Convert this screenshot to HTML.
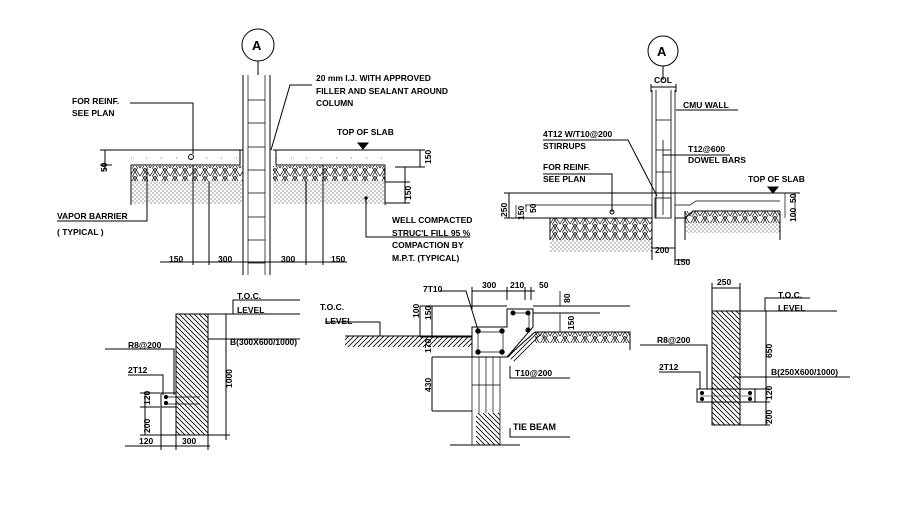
<!DOCTYPE html>
<html><head><style>
html,body{margin:0;padding:0;background:#fff;}
svg{display:block;}
text{font-family:"Liberation Sans",sans-serif;font-weight:bold;font-size:8.5px;fill:#000;}
</style></head><body>
<svg width="904" height="529" viewBox="0 0 904 529" xmlns="http://www.w3.org/2000/svg">
<defs>
<pattern id="diag" width="5" height="5" patternUnits="userSpaceOnUse"><path d="M-1,1 L1,-1 M0,5 L5,0 M4,6 L6,4" stroke="#000" stroke-width="0.8" transform="scale(-1,1) translate(-5,0)"/></pattern>
<pattern id="diag2" width="5" height="5" patternUnits="userSpaceOnUse"><path d="M-1,1 L1,-1 M0,5 L5,0 M4,6 L6,4" stroke="#000" stroke-width="0.8"/></pattern>
<pattern id="herr" width="10" height="8" patternUnits="userSpaceOnUse"><path d="M0,8 L5,0 M5,0 L10,8 M-5,8 L0,0 M10,0 L15,8 M2.5,8 L7.5,0 M2.5,0 L7.5,8" stroke="#000" stroke-width="0.7"/></pattern>
<pattern id="dots" width="4" height="4" patternUnits="userSpaceOnUse"><circle cx="1" cy="1" r="0.55" fill="#000"/><circle cx="3" cy="3" r="0.55" fill="#000"/></pattern>
</defs>
<g stroke="#000" stroke-width="1" fill="none">
<!-- ===== DETAIL 1 ===== -->
<circle cx="258" cy="45" r="16"/>
<line x1="258" y1="61" x2="258" y2="75"/>
<rect x="131" y="166" width="112" height="15" fill="url(#herr)" stroke="none"/>
<rect x="273" y="166" width="112" height="15" fill="url(#herr)" stroke="none"/>
<rect x="131" y="181" width="112" height="23" fill="url(#dots)" stroke="none"/>
<rect x="273" y="181" width="112" height="23" fill="url(#dots)" stroke="none"/>
<line x1="243" y1="75" x2="243" y2="275"/><line x1="270" y1="75" x2="270" y2="275"/>
<line x1="248" y1="75" x2="248" y2="275" stroke-width="0.7"/><line x1="265" y1="75" x2="265" y2="275" stroke-width="0.7"/>
<path d="M248,100H265M248,123H265M248,147H265M248,170H265M248,193H265M248,217H265M248,240H265M248,263H265" stroke-width="0.7"/>
<path d="M108,150H243M273,150H415"/>
<path d="M131,165H240V150M276,150V165H385" />
<path d="M131,165V205M385,165V205"/>
<path d="M131,158H240M276,158H385" stroke-width="0.5" stroke-dasharray="1,14"/>
<circle cx="191" cy="157" r="2.5"/>
<path d="M130,103H193V154"/>
<path d="M312,85H290L271,150"/>
<path d="M358,143h10l-5,6z" fill="#000"/>
<path d="M105,150V170M100,150H112M100,165H112"/>
<path d="M420,150V167M395,167H425M415,150H425"/>
<path d="M405,167V203M385,182H410M385,203H410"/>
<path d="M57,221H147V168"/>
<path d="M366,198V237H470"/>
<circle cx="366" cy="198" r="1.2" fill="#000"/>
<path d="M160,262H347M193,165V265M209,181V265M306,181V265M323,165V265"/>
<!-- ===== DETAIL 2 ===== -->
<circle cx="663" cy="51" r="15"/>
<line x1="663" y1="66" x2="663" y2="80"/>
<path d="M651,87H676M651,84V92M676,84V92"/>
<rect x="550" y="218" width="102" height="22" fill="url(#herr)" stroke="none"/>
<rect x="550" y="240" width="102" height="12" fill="url(#dots)" stroke="none"/>
<rect x="685" y="211" width="95" height="12" fill="url(#herr)" stroke="none"/>
<rect x="685" y="223" width="95" height="10" fill="url(#dots)" stroke="none"/>
<path d="M652,90V218M675,90V218M656,90V218M671,90V218" stroke-width="0.8"/>
<path d="M656,120H671M656,150H671M656,172H671" stroke-width="0.8"/>
<path d="M663,140V215" stroke-width="0.8"/>
<path d="M676,110H738"/>
<path d="M663,155H730"/>
<path d="M543,140H628L657,196"/>
<path d="M543,174H612V212"/><circle cx="612" cy="212" r="2"/>
<path d="M507,193H800"/>
<path d="M507,218H652M675,218H685L693,211H780"/>
<path d="M525,205H652V218M675,205H690L696,201H780" stroke-width="0.7"/>
<rect x="655" y="198" width="16" height="20" stroke-width="0.8"/>
<path d="M550,218V240M685,211V240M780,211V240"/>
<path d="M768,187h10l-5,6z" fill="#000"/>
<path d="M509,193V218M504,193H514M504,218H514"/>
<path d="M516,205V218M526,205V212" stroke-width="0.7"/>
<path d="M785,193V218M795,193V218" stroke-width="0.7"/>
<path d="M652,218V260M675,218V265M652,248H675M675,260H690"/>
<!-- ===== BOTTOM LEFT ===== -->
<rect x="176" y="314" width="32" height="121" fill="url(#diag)"/>
<rect x="161" y="393" width="15" height="14"/>
<circle cx="166" cy="397" r="1.6" fill="#000"/><circle cx="166" cy="403" r="1.6" fill="#000"/>
<path d="M164,397H200M164,404H200" stroke-width="0.7"/>
<path d="M208,314H300M233,314V300H300"/>
<path d="M208,339H300"/>
<path d="M105,349H174V395"/>
<path d="M128,375H163V395"/>
<path d="M226,314V440M208,435H230"/>
<path d="M145,393V435M140,393H160M140,407H160M140,435H176"/>
<path d="M125,446H210M161,407V450M176,435V450M208,435V450"/>
<!-- ===== BOTTOM MIDDLE ===== -->
<rect x="345" y="336" width="127" height="11" fill="url(#diag2)" stroke="none"/>
<rect x="535" y="332" width="95" height="11" fill="url(#herr)" stroke="none"/>
<path d="M507,357L535,332L545,335L515,362Z" fill="url(#diag2)" stroke="none"/>
<path d="M345,336H472M535,332H630V350"/>
<path d="M507,357L535,332"/>
<path d="M380,322H325M380,322V336"/>
<path d="M472,327H507V309H533V327L507,357H472Z"/>
<path d="M478,332H503V352H478Z" stroke-width="0.7"/>
<path d="M511,313H529V330" stroke-width="0.7"/>
<circle cx="478" cy="331" r="2.2" fill="#000"/><circle cx="502" cy="331" r="2.2" fill="#000"/>
<circle cx="478" cy="352" r="2.2" fill="#000"/><circle cx="502" cy="352" r="2.2" fill="#000"/>
<circle cx="513" cy="313" r="2" fill="#000"/><circle cx="528" cy="313" r="2" fill="#000"/><circle cx="528" cy="330" r="2" fill="#000"/>
<path d="M533,306H630M533,313H600" />
<path d="M472,357V445M500,357V445M479,357V413M486,357V413M493,357V413M472,385H500" stroke-width="0.7"/>
<rect x="476" y="413" width="24" height="32" fill="url(#diag)" stroke="none"/>
<path d="M450,445H520"/>
<path d="M440,291H466L478,330"/>
<path d="M472,291H535M472,287V309M507,287V300M525,287V300M531,287V300"/>
<path d="M420,306H507M420,306V337M432,306V337M420,337H472M432,357H472V357M432,357V411M432,411H472"/>
<path d="M560,291V306M555,306H565M560,313V332" stroke-width="0.8"/>
<path d="M510,366V378H570"/>
<path d="M510,428V437H570"/>
<!-- ===== BOTTOM RIGHT ===== -->
<rect x="712" y="311" width="28" height="114" fill="url(#diag)"/>
<rect x="697" y="389" width="58" height="13"/>
<circle cx="702" cy="393" r="1.5" fill="#000"/><circle cx="702" cy="399" r="1.5" fill="#000"/><circle cx="750" cy="393" r="1.5" fill="#000"/><circle cx="750" cy="399" r="1.5" fill="#000"/>
<path d="M700,396H752" stroke-width="0.6"/>
<path d="M712,288H740M712,283V311M740,283V311"/>
<path d="M740,311H837M765,311V298H810"/>
<path d="M766,311V425M755,389H770M755,402H770M740,425H770"/>
<path d="M640,345H707V389"/>
<path d="M659,372H700V389"/>
<path d="M733,377H850"/>
</g>
<g>
<text x="252" y="50" style="font-size:13px">A</text>
<text x="657" y="56" style="font-size:13px">A</text>
<text x="72" y="104">FOR REINF.</text><text x="72" y="116">SEE PLAN</text>
<text x="316" y="81">20 mm I.J. WITH APPROVED</text>
<text x="316" y="94">FILLER AND SEALANT AROUND</text>
<text x="316" y="106">COLUMN</text>
<text x="337" y="135">TOP OF SLAB</text>
<text x="57" y="219">VAPOR BARRIER</text><text x="57" y="235">( TYPICAL )</text>
<text x="392" y="223">WELL COMPACTED</text>
<text x="392" y="236">STRUC'L FILL 95 %</text>
<text x="392" y="248">COMPACTION BY</text>
<text x="392" y="261">M.P.T. (TYPICAL)</text>
<text x="169" y="262">150</text><text x="218" y="262">300</text><text x="281" y="262">300</text><text x="331" y="262">150</text>
<text transform="translate(107,172) rotate(-90)">50</text>
<text transform="translate(431,164) rotate(-90)">150</text>
<text transform="translate(411,200) rotate(-90)">150</text>
<text x="654" y="83">COL</text>
<text x="683" y="108">CMU WALL</text>
<text x="543" y="137">4T12 W/T10@200</text><text x="543" y="149">STIRRUPS</text>
<text x="688" y="152">T12@600</text><text x="688" y="163">DOWEL BARS</text>
<text x="543" y="170">FOR REINF.</text><text x="543" y="182">SEE PLAN</text>
<text x="748" y="182">TOP OF SLAB</text>
<text transform="translate(507,217) rotate(-90)">250</text>
<text transform="translate(524,220) rotate(-90)">150</text>
<text transform="translate(536,213) rotate(-90)">50</text>
<text transform="translate(796,222) rotate(-90)">100</text>
<text transform="translate(796,203) rotate(-90)">50</text>
<text x="655" y="253">200</text><text x="676" y="265">150</text>
<text x="237" y="299">T.O.C.</text><text x="237" y="313">LEVEL</text>
<text x="128" y="348">R8@200</text><text x="128" y="373">2T12</text>
<text x="230" y="345">B(300X600/1000)</text>
<text transform="translate(232,388) rotate(-90)">1000</text>
<text transform="translate(150,433) rotate(-90)">200</text>
<text transform="translate(150,405) rotate(-90)">120</text>
<text x="139" y="444">120</text><text x="182" y="444">300</text>
<text x="320" y="310">T.O.C.</text><text x="325" y="324">LEVEL</text>
<text x="423" y="292">7T10</text>
<text x="482" y="288">300</text><text x="510" y="288">210</text><text x="539" y="288">50</text>
<text transform="translate(570,303) rotate(-90)">80</text>
<text transform="translate(419,318) rotate(-90)">100</text>
<text transform="translate(431,320) rotate(-90)">150</text>
<text transform="translate(431,353) rotate(-90)">170</text>
<text transform="translate(431,392) rotate(-90)">430</text>
<text transform="translate(574,330) rotate(-90)">150</text>
<text x="515" y="376">T10@200</text>
<text x="513" y="430" style="font-size:9px">TIE BEAM</text>
<text x="717" y="285">250</text>
<text x="778" y="298">T.O.C.</text><text x="778" y="311">LEVEL</text>
<text x="657" y="343">R8@200</text><text x="659" y="370">2T12</text>
<text x="771" y="375">B(250X600/1000)</text>
<text transform="translate(772,358) rotate(-90)">650</text>
<text transform="translate(772,400) rotate(-90)">120</text>
<text transform="translate(772,424) rotate(-90)">200</text>
</g>
</svg>
</body></html>
